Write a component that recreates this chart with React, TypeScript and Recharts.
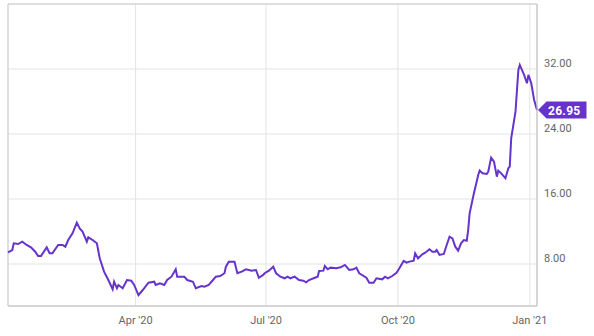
import { LineChart, Line, XAxis, YAxis, CartesianGrid, ReferenceArea, ReferenceDot } from "recharts";

const dates = [
  "2020-01-03", "2020-01-06", "2020-01-07", "2020-01-10", "2020-01-13", "2020-01-16", "2020-01-19", "2020-01-22",
  "2020-01-24", "2020-01-26", "2020-01-30", "2020-02-01", "2020-02-03", "2020-02-07", "2020-02-10", "2020-02-12",
  "2020-02-14", "2020-02-17", "2020-02-20", "2020-02-22", "2020-02-24", "2020-02-27", "2020-02-28", "2020-03-02",
  "2020-03-05", "2020-03-07", "2020-03-10", "2020-03-13", "2020-03-16", "2020-03-17", "2020-03-19", "2020-03-20",
  "2020-03-23", "2020-03-26", "2020-03-29", "2020-03-31", "2020-04-03", "2020-04-06", "2020-04-10", "2020-04-14",
  "2020-04-15", "2020-04-18", "2020-04-21", "2020-04-23", "2020-04-26", "2020-04-29", "2020-04-30", "2020-05-05",
  "2020-05-07", "2020-05-11", "2020-05-13", "2020-05-17", "2020-05-19", "2020-05-22", "2020-05-25", "2020-05-27",
  "2020-05-30", "2020-06-02", "2020-06-03", "2020-06-05", "2020-06-09", "2020-06-11", "2020-06-14", "2020-06-17",
  "2020-06-21", "2020-06-24", "2020-06-26", "2020-06-29", "2020-06-30", "2020-07-03", "2020-07-06", "2020-07-08",
  "2020-07-11", "2020-07-14", "2020-07-16", "2020-07-18", "2020-07-21", "2020-07-24", "2020-07-27", "2020-07-29",
  "2020-07-31", "2020-08-04", "2020-08-06", "2020-08-07", "2020-08-10", "2020-08-11", "2020-08-13", "2020-08-15",
  "2020-08-19", "2020-08-22", "2020-08-25", "2020-08-28", "2020-08-31", "2020-09-02", "2020-09-04", "2020-09-09",
  "2020-09-11", "2020-09-14", "2020-09-16", "2020-09-20", "2020-09-22", "2020-09-24", "2020-09-27", "2020-09-30",
  "2020-10-02", "2020-10-05", "2020-10-07", "2020-10-09", "2020-10-12", "2020-10-13", "2020-10-15", "2020-10-18",
  "2020-10-20", "2020-10-23", "2020-10-25", "2020-10-27", "2020-10-28", "2020-10-30", "2020-11-02", "2020-11-04",
  "2020-11-06", "2020-11-08", "2020-11-10", "2020-11-12", "2020-11-14", "2020-11-16", "2020-11-18", "2020-11-19",
  "2020-11-20", "2020-11-23", "2020-11-26", "2020-11-27", "2020-11-29", "2020-12-02", "2020-12-03", "2020-12-05",
  "2020-12-07", "2020-12-09", "2020-12-10", "2020-12-12", "2020-12-15", "2020-12-17", "2020-12-18", "2020-12-19",
  "2020-12-22", "2020-12-24", "2020-12-25", "2020-12-28", "2020-12-30", "2020-12-31", "2021-01-02", "2021-01-04",
  "2021-01-06",
];

const prices = [
  9.44, 9.72, 10.55, 10.46, 10.75, 10.34, 10.05, 9.51,
  8.98, 8.98, 10.05, 9.32, 9.32, 10.34, 10.34, 10.13,
  10.95, 11.77, 13.09, 12.39, 11.98, 10.75, 11.28, 10.95,
  10.55, 8.7, 7.06, 6.03, 4.89, 5.82, 5.01, 5.42,
  5.01, 6.03, 5.95, 5.42, 4.18, 4.8, 5.7, 5.82,
  5.42, 5.62, 5.42, 6.03, 6.44, 7.35, 6.44, 6.44,
  6.03, 5.82, 5.01, 5.29, 5.21, 5.42, 6.03, 6.44,
  6.52, 6.86, 7.67, 8.29, 8.29, 6.86, 7.06, 7.35,
  7.18, 7.26, 6.31, 6.65, 6.86, 7.18, 7.67, 6.86,
  6.44, 6.24, 6.44, 6.24, 6.44, 6.03, 5.95, 5.75,
  6.03, 6.31, 6.44, 7.14, 7.18, 7.75, 7.35, 7.55,
  7.47, 7.59, 7.88, 7.26, 7.35, 7.55, 6.86, 6.31,
  5.7, 5.7, 6.24, 6.11, 6.44, 6.24, 6.52, 6.93,
  7.47, 8.37, 8.16, 8.29, 8.41, 9.32, 8.7, 9.19,
  9.39, 9.81, 9.51, 9.51, 9.72, 9.11, 9.23, 10.34,
  11.36, 11.16, 10.13, 9.64, 10.55, 10.95, 10.87, 12.18,
  14.24, 16.7, 18.96, 19.49, 19.16, 19.08, 19.36, 21.09,
  20.59, 18.75, 19.49, 19.16, 18.55, 19.78, 19.98, 23.47,
  26.75, 31.88, 32.5, 31.27, 30.24, 31.27, 30.24, 28.19,
  26.95,
];

const tickDates = ["2020-04-01", "2020-07-01", "2020-10-01", "2021-01-01"];
const tickLabels = ["Apr '20", "Jul '20", "Oct '20", "Jan '21"];
const yTicks = [8, 16, 24, 32];

const LINE = "#6633cc";
const Y_MIN = 2.83;
const Y_MAX = 40;

const data = dates.map((d, i) => ({ t: Date.parse(d), price: prices[i] }));
const xTicks = tickDates.map((d) => Date.parse(d));
const last = data[data.length - 1];

const YTick = ({ x, y, payload }: any) => (
  <text x={x} y={y - 2} fill="#666" fontSize={11} fontFamily="Roboto" textAnchor="start">
    {Number(payload.value).toFixed(2)}
  </text>
);

const PriceTag = ({ cx, cy }: any) => {
  const tip = cx + 1;
  return (
    <g>
      <polygon
        points={`${tip},${cy} ${tip + 8.5},${cy - 8.5} ${tip + 48.5},${cy - 8.5} ${tip + 48.5},${cy + 8.5} ${tip + 8.5},${cy + 8.5}`}
        fill={LINE}
      />
      <text x={tip + 10} y={cy + 4.5} fill="#fff" fontSize={12} fontWeight="bold" fontFamily="Roboto" letterSpacing={0.3}>
        {last.price.toFixed(2)}
      </text>
    </g>
  );
};

export default function App() {
  return (
    <div style={{ position: "absolute", left: 0, top: 0, fontFamily: "Roboto" }}>
      <LineChart width={594} height={336} data={data} margin={{ top: 4, right: 0, left: 8, bottom: 0 }}>
        <CartesianGrid stroke="#e3e3e3" />
        <ReferenceArea x1={data[0].t} x2={last.t} y1={Y_MIN} y2={Y_MAX} fill="none" stroke="#cccccc" />
        <XAxis
          dataKey="t"
          type="number"
          domain={["dataMin", "dataMax"]}
          ticks={xTicks}
          tickFormatter={(v) => tickLabels[xTicks.indexOf(v)]}
          height={30}
          tickLine={false}
          tickSize={0}
          tickMargin={10}
          axisLine={{ stroke: "#cccccc" }}
          tick={{ fill: "#666", fontSize: 11, fontFamily: "Roboto" }}
        />
        <YAxis
          orientation="right"
          domain={[Y_MIN, Y_MAX]}
          ticks={yTicks}
          width={57}
          tickLine={false}
          tickSize={0}
          tickMargin={7}
          axisLine={{ stroke: "#cccccc" }}
          tick={<YTick />}
          allowDataOverflow
        />
        <Line
          type="linear"
          dataKey="price"
          stroke={LINE}
          strokeWidth={2}
          dot={false}
          isAnimationActive={false}
        />
        <ReferenceDot x={last.t} y={last.price} shape={<PriceTag />} ifOverflow="visible" />
      </LineChart>
    </div>
  );
}
